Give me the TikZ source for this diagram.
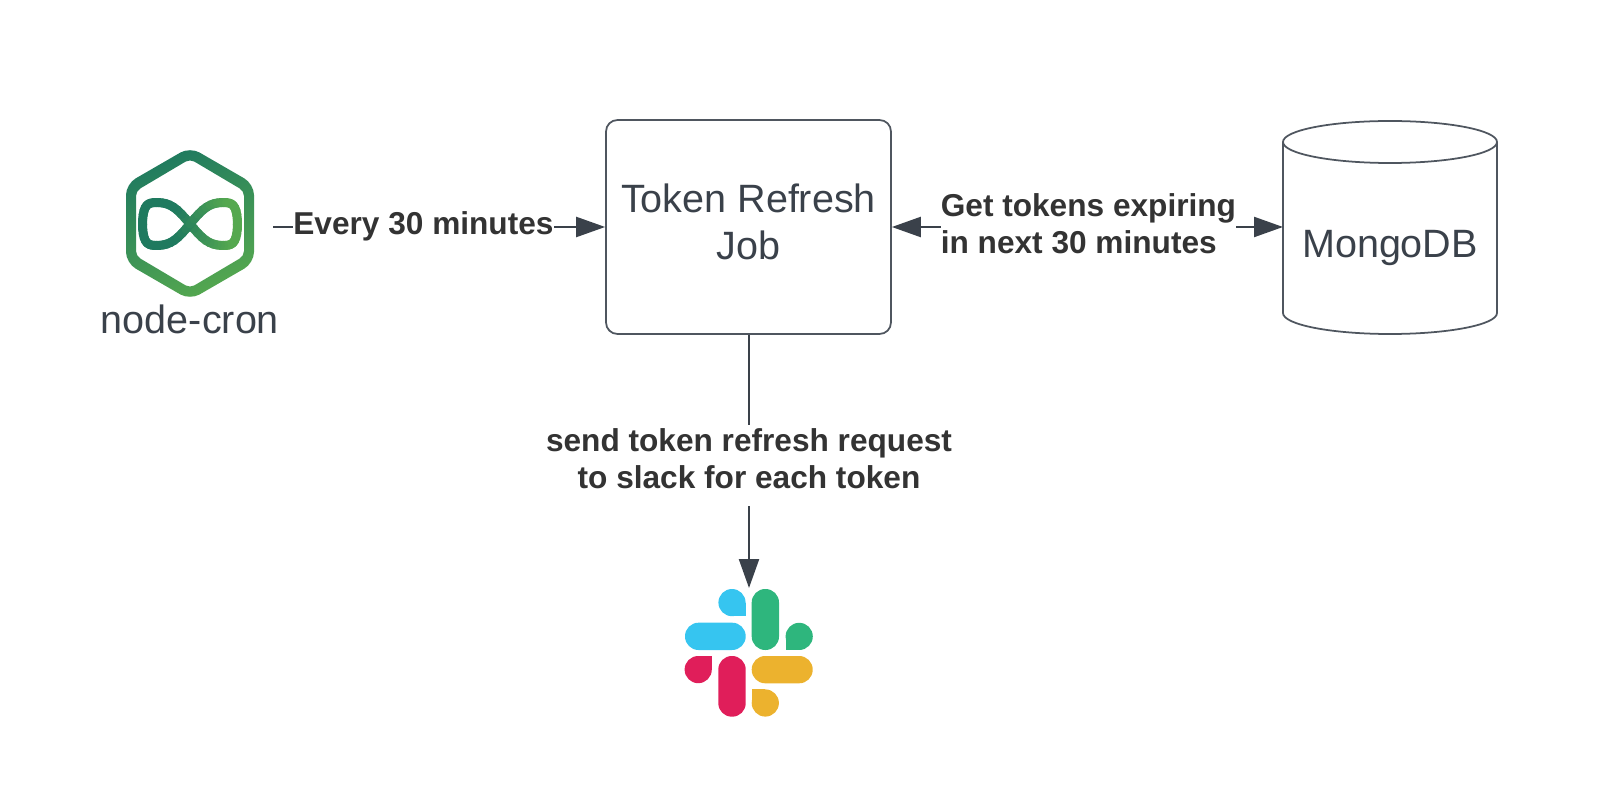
\documentclass[tikz,border=0pt]{standalone}
\usepackage{fontspec}
\setmainfont{Liberation Sans}
\usepackage{xcolor}
\usetikzlibrary{arrows.meta,positioning,shapes.geometric}
\definecolor{cLine}{HTML}{3A414A}
\definecolor{cEdge}{HTML}{4F565F}
\definecolor{cText}{HTML}{333333}
\definecolor{cDark}{HTML}{1F7A5F}
\definecolor{cLight}{HTML}{55A84F}
\definecolor{cBlue}{HTML}{36C5F0}
\definecolor{cGreen}{HTML}{2EB67D}
\definecolor{cRed}{HTML}{E01E5A}
\definecolor{cYellow}{HTML}{ECB22E}
\tikzset{
  box/.style={rounded corners=6.5pt, draw=cEdge, line width=1pt, text=cLine, align=center,
              font=\fontsize{22.5}{27}\selectfont, minimum width=5.7cm, minimum height=4.28cm},
  plain/.style={text=cLine, font=\fontsize{22.5}{27}\selectfont, inner sep=0pt},
  flow/.style={-{Triangle[length=5.8mm,width=4mm]}, line width=1.3pt, color=cLine},
  twoway/.style={{Triangle[length=5.8mm,width=4mm]}-{Triangle[length=5.8mm,width=4mm]}, line width=1.3pt, color=cLine},
  lbl/.style={font=\fontsize{18}{21.2}\bfseries\selectfont, text=cText, fill=white, inner sep=0pt},
}
\newcommand{\slackbar}[5]{\fill[#1, rounded corners=2.7mm] (#2,#3) rectangle (#4,#5);}
\newcommand{\slackdrop}[5]{\fill[#1] (#2,#3) circle (2.72mm); \fill[#1] (#2,#3) rectangle ++(#4*13.6,#5*13.6);}

\begin{document}
\begin{tikzpicture}[x=0.02cm,y=-0.02cm]
  \useasboundingbox (0,0) rectangle (1600,790);

  % cron logo
  \shade[even odd rule, top color=cDark, bottom color=cLight, shading angle=25]
    [rounded corners=2.2mm] (190,147) -- (254,184) -- (254,263) -- (190,300) -- (126,263) -- (126,184) -- cycle
    [rounded corners=1mm] (190,159) -- (244,191) -- (244,256) -- (190,288) -- (136,256) -- (136,191) -- cycle;
  \foreach \t in {0,5,...,355} {
    \pgfmathsetmacro{\mixval}{max(0,min(100,100*(cos(\t)+0.3)/1.1))}
    \draw[cLight!\mixval!cDark, line width=1.8mm, line cap=round]
      ({190+47.5*cos(\t)},{224+21.5*sin(2*\t)*(1+0.35*cos(2*\t)^2)}) -- ({190+47.5*cos(\t+6)},{224+21.5*sin(2*\t+12)*(1+0.35*cos(2*\t+12)^2)});
  }
  \node[plain] (cronname) at (190,319) {node-cron};
  \coordinate (cronout) at (273,227);

  \node[box] (job) at (748.5,227) {Token Refresh\\Job\rule[-6pt]{0pt}{0pt}};

  % mongo cylinder
  \draw[cEdge, line width=1pt] (1283,142) -- (1283,313) arc[start angle=180, end angle=360, x radius=107, y radius=-21] -- (1497,142);
  \draw[cEdge, line width=1pt] (1390,142) ellipse [x radius=107, y radius=21];
  \node[plain] (mongo) at (1390,248) {MongoDB};
  \coordinate (mongoin) at (1283,227);

  % slack logo
  \slackdrop{cBlue}{732}{602.6}{1}{1}
  \slackbar{cBlue}{685}{622.7}{745.7}{650}
  \slackbar{cGreen}{751.7}{589}{779}{650}
  \slackdrop{cGreen}{799.2}{636.4}{-1}{1}
  \slackdrop{cRed}{698.2}{669.6}{1}{-1}
  \slackbar{cRed}{718.3}{656}{745.7}{716.7}
  \slackbar{cYellow}{751.7}{656}{812.7}{683.3}
  \slackdrop{cYellow}{765.3}{703}{-1}{-1}
  \coordinate (slack) at (749,588);

  \draw[flow] (cronout) -- node[lbl, pos=0.453, yshift=0.5pt] (every) {Every 30 minutes} (job.west |- cronout);
  \draw[twoway] (job.east) -- node[lbl, pos=0.5026, yshift=2pt, align=left] (expiring) {Get tokens expiring\\in next 30 minutes} (mongoin);
  \draw[flow] (job.south -| slack) -- node[lbl, pos=0.515, inner ysep=2pt, align=center] (request) {send token refresh request\\to slack for each token\rule[-8pt]{0pt}{0pt}} (slack);
\end{tikzpicture}
\end{document}
